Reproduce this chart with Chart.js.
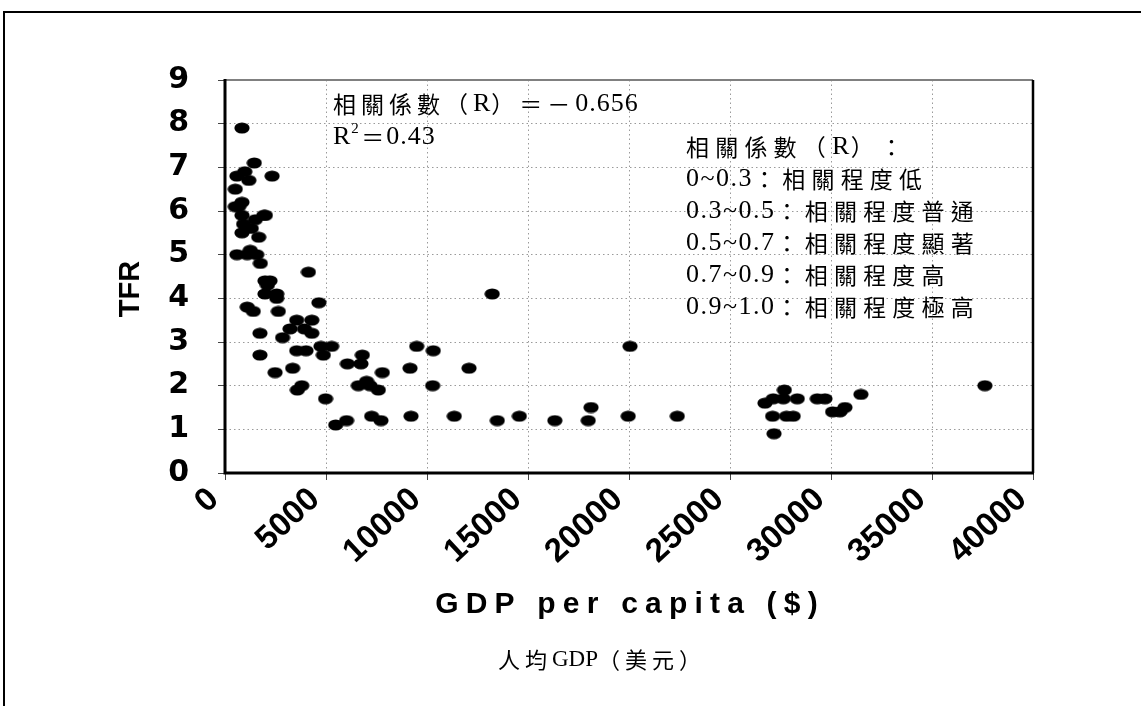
<!DOCTYPE html>
<html><head><meta charset="utf-8">
<script src="https://cdn.jsdelivr.net/npm/chart.js@4.4.0/dist/chart.umd.min.js"></script>
<style>html,body{margin:0;padding:0;background:#fff;}#wrap{width:1141px;height:706px;position:relative;}</style>
</head><body><div id="wrap"><canvas id="c" width="1141" height="706"></canvas></div>
<script>
// GDP per capita (US$) and TFR values
const gdpValues = [840,1450,980,590,1180,2330,510,840,510,680,840,1920,2000,1500,920,1300,840,1670,590,1250,1100,1570,1750,4130,1980,2230,2100,1980,2560,2560,4650,1100,1400,2640,3550,4300,3220,3930,4300,1730,2850,4750,5280,3550,4010,4870,1730,6800,6060,6730,9490,10310,3350,2480,7790,9160,3800,3580,6600,7010,7180,7590,10280,4980,5480,6020,7260,7720,9210,13230,12080,20050,11350,13480,14570,16330,17980,18120,19960,22390,37620,27690,26730,27140,27640,28330,29320,29700,31480,27110,27800,28130,30080,30440,30690,27180];
const tfrValues = [7.9,7.1,6.9,6.8,6.7,6.8,6.5,6.2,6.1,6.1,5.9,5.9,5.9,5.8,5.7,5.6,5.5,5.4,5.0,5.1,5.0,5.0,4.8,4.6,4.4,4.4,4.3,4.1,4.1,4.0,3.9,3.8,3.7,3.7,3.5,3.5,3.3,3.3,3.2,3.2,3.1,2.9,2.9,2.8,2.8,2.7,2.7,2.7,2.5,2.5,2.9,2.8,2.4,2.3,2.3,2.4,2.0,1.9,2.0,2.1,2.0,1.9,2.0,1.7,1.1,1.2,1.3,1.2,1.3,4.1,2.4,2.9,1.3,1.2,1.3,1.2,1.2,1.5,1.3,1.3,2.0,1.9,1.6,1.7,1.7,1.7,1.7,1.7,1.8,1.3,1.3,1.3,1.4,1.4,1.5,0.9];
const xTickValues = [0,5000,10000,15000,20000,25000,30000,35000,40000];
const yTickValues = [0,1,2,3,4,5,6,7,8,9];
const xTitle = "GDP per capita ($)";
const yTitle = "TFR";
const subTitle = "人均GDP（美元）";
const noteLine1 = "相關係數（R）＝－0.656";
const noteR2 = "0.43";
const noteLines2 = ["相關係數（R）：","0~0.3：相關程度低","0.3~0.5：相關程度普通","0.5~0.7：相關程度顯著","0.7~0.9：相關程度高","0.9~1.0：相關程度極高"];

const points = gdpValues.map((g,i)=>({x:g,y:tfrValues[i]}));

// ellipse marker
const mk = document.createElement('canvas');
mk.width = 16; mk.height = 12;
(function(){const c=mk.getContext('2d');c.fillStyle='#000';c.beginPath();c.ellipse(8,6,7.6,5.6,0,0,Math.PI*2);c.fill();})();

const LATIN = '"Liberation Serif", "Times New Roman", serif';
const CJK = '"Noto Sans CJK TC", "Noto Sans CJK SC", sans-serif';
function isWide(ch){return /[\u3000-\u9fff\uff00-\uffef]/.test(ch);}
function spacedText(ctx,str,x,y,o){
  let cx=x;
  for(const ch of str){
    const w = isWide(ch);
    ctx.font = w ? (o.cjk+'px '+CJK) : (o.lat+'px '+LATIN);
    ctx.fillText(ch,cx,y);
    cx += ctx.measureText(ch).width + (w?o.ws:o.ns);
  }
  return cx;
}

const deco = {
  id:'deco',
  beforeDraw(chart){
    const ctx=chart.ctx;
    ctx.save();ctx.fillStyle='#fff';ctx.fillRect(0,0,chart.width,chart.height);ctx.restore();
  },
  afterDraw(chart){
    const ctx=chart.ctx, a=chart.chartArea;
    ctx.save();
    // outer frame
    ctx.strokeStyle='#000';ctx.lineWidth=2;
    ctx.beginPath();ctx.moveTo(4,710);ctx.lineTo(4,12);ctx.lineTo(1145,12);ctx.stroke();
    // plot frame
    ctx.strokeStyle='#808080';ctx.lineWidth=2;
    ctx.beginPath();ctx.moveTo(a.left,a.top);ctx.lineTo(a.right,a.top);ctx.stroke();
    ctx.strokeStyle='#000';ctx.lineWidth=2.5;
    ctx.beginPath();ctx.moveTo(a.right,a.top);ctx.lineTo(a.right,a.bottom);ctx.stroke();
    ctx.lineWidth=3;
    ctx.beginPath();ctx.moveTo(a.left,a.top-1);ctx.lineTo(a.left,a.bottom);ctx.lineTo(a.right+1,a.bottom);ctx.stroke();
    // axis titles
    ctx.fillStyle='#000';
    ctx.save();
    ctx.translate(131,289);ctx.rotate(-Math.PI/2);
    ctx.font='bold 29px "Liberation Sans", Arial, sans-serif';
    ctx.textAlign='center';ctx.textBaseline='middle';
    ctx.fillText(yTitle,0,0);
    ctx.restore();
    ctx.font='bold 30px "Liberation Sans", Arial, sans-serif';
    ctx.letterSpacing='7.2px';
    ctx.textAlign='center';ctx.textBaseline='middle';
    ctx.fillText(xTitle,630,605);
    ctx.letterSpacing='0px';
    // subtitle
    ctx.textAlign='left';ctx.textBaseline='middle';
    spacedText(ctx,subTitle,498,660,{cjk:22,lat:23,ws:5,ns:0});
    // note 1
    spacedText(ctx,noteLine1,333,104,{cjk:23,lat:26,ws:5,ns:1});
    let ex = spacedText(ctx,'R',333,137,{cjk:23,lat:26,ws:5,ns:1});
    ctx.font='15px '+LATIN; ctx.fillText('2',ex,129); ex += 10;
    ex = spacedText(ctx,'＝',ex,137,{cjk:23,lat:26,ws:2,ns:1});
    spacedText(ctx,noteR2,ex,137,{cjk:23,lat:26,ws:5,ns:1});
    // note 2
    noteLines2.forEach((s,i)=>spacedText(ctx,s,686,147+i*32,{cjk:23,lat:26,ws:6.2,ns:1.5}));
    ctx.restore();
  }
};

new Chart(document.getElementById('c'),{
  type:'scatter',
  data:{datasets:[{data:points,pointStyle:mk,pointRadius:7,backgroundColor:'#000',borderColor:'#000'}]},
  options:{
    responsive:false,animation:false,
    layout:{padding:{left:0,top:80,right:108,bottom:0}},
    plugins:{legend:{display:false},tooltip:{enabled:false}},
    scales:{
      x:{type:'linear',min:0,max:40000,
        afterBuildTicks(s){s.ticks=xTickValues.map(v=>({value:v}));},
        afterFit(s){s.height=233;},
        ticks:{color:'#000',font:{family:'"Liberation Sans", Arial, sans-serif',size:33,weight:'bold'},minRotation:43,maxRotation:43,padding:0,labelOffset:-11,autoSkip:false,
          callback:(v)=>String(v)},
        grid:{color:'#9a9a9a',lineWidth:1,borderDash:[1.5,3],drawTicks:true,tickLength:7,tickColor:'#444',tickBorderDash:[]},
        border:{display:false,dash:[1.5,3]}
      },
      y:{type:'linear',min:0,max:9,
        afterBuildTicks(s){s.ticks=yTickValues.map(v=>({value:v}));},
        afterFit(s){s.width=225;},
        ticks:{color:'#000',font:{family:'"DejaVu Sans", sans-serif',size:30,weight:'bold'},padding:29,callback:(v)=>String(v)},
        grid:{color:'#9a9a9a',lineWidth:1,borderDash:[1.5,3],drawTicks:true,tickLength:7,tickColor:'#444',tickBorderDash:[]},
        border:{display:false,dash:[1.5,3]}
      }
    }
  },
  plugins:[deco]
});
</script></body></html>
